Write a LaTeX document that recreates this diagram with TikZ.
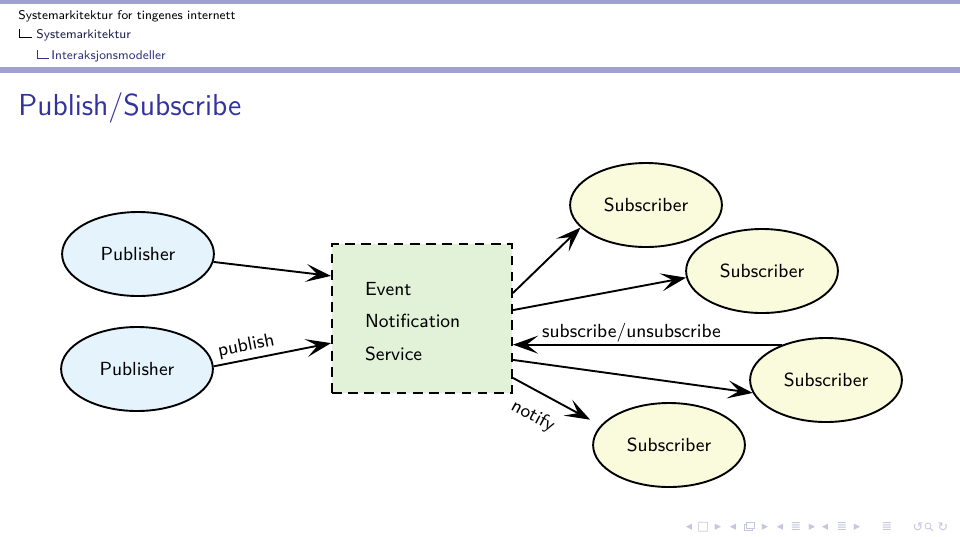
\documentclass[tikz,border=0pt]{standalone}
\usepackage{fontspec}
\newfontfamily\symfont{DejaVu Sans}
\usetikzlibrary{shapes.geometric, arrows.meta, positioning}
\definecolor{barcol}{HTML}{A0A0D6}
\definecolor{titlecol}{HTML}{33339E}
\definecolor{seccol}{HTML}{1C1C4A}
\definecolor{subseccol}{HTML}{33337E}
\definecolor{pubfill}{HTML}{E5F4FC}
\definecolor{boxfill}{HTML}{E1F2D8}
\definecolor{subfill}{HTML}{FAFADC}
\definecolor{navcol}{HTML}{C6C6DE}
\tikzset{
  publisher/.style = {ellipse, draw=black, line width=0.9pt, fill=pubfill,
    minimum width=25.3mm, minimum height=14mm, inner sep=0pt,
    font=\sffamily\fontsize{9}{11}\selectfont},
  subscriber/.style = {ellipse, draw=black, line width=0.9pt, fill=subfill,
    minimum width=25.3mm, minimum height=14mm, inner sep=0pt,
    font=\sffamily\fontsize{9}{11}\selectfont},
  service/.style = {rectangle, draw=black, line width=0.9pt,
    dash pattern=on 1.6mm off 1.1mm, fill=boxfill, minimum width=30mm,
    minimum height=24.8mm, inner sep=0pt,
    font=\sffamily\fontsize{9}{15.6}\selectfont},
  msg/.style = {-{Stealth[length=4.2mm, width=3mm, inset=1.9mm]},
    line width=0.9pt, draw=black},
  lbl/.style = {font=\sffamily\fontsize{9}{11}\selectfont, inner sep=2pt},
  hdr/.style = {font=\sffamily\fontsize{6}{7}\selectfont, inner sep=0pt,
    anchor=base west},
  hdrline/.style = {line width=0.4pt, draw=black},
  nav/.style = {font=\symfont\fontsize{6}{7}\selectfont, text=navcol,
    inner sep=0pt},
  navline/.style = {draw=navcol, line width=0.4pt},
}

\begin{document}
\begin{tikzpicture}[x=0.16667mm, y=-0.16667mm]
\useasboundingbox (0,0) rectangle (960,536);
\fill[white] (0,0) rectangle (960,536);

% headline
\fill[barcol] (0,0) rectangle (960,4);
\fill[barcol] (0,67) rectangle (960,73);
\node[hdr] (hdrA) at (18,19) {Systemarkitektur for tingenes internett};
\node[hdr, text=seccol] (hdrB) at (36,38) {Systemarkitektur};
\node[hdr, text=subseccol] (hdrC) at (51,59) {Interaksjonsmodeller};
\draw[hdrline] (19,29) -- (19,37) -- (32,37);
\draw[hdrline, draw=subseccol] (37,50) -- (37,58) -- (49,58);

% frame title
\node[anchor=base west, inner sep=0pt, text=titlecol,
  font=\sffamily\fontsize{14.4}{17}\selectfont] (title) at (18,115) {Publish/Subscribe};

% nodes
\node[publisher] (pubA) at (138,254) {Publisher};
\node[publisher] (pubB) at (137,369) {Publisher};
\node[service] (box) at (422,318.5)
  {\raisebox{-3.7pt}[0pt][0pt]{\parbox{19mm}{\raggedright Event\\Notification\\Service}}};
\node[subscriber] (subA) at (646,205) {Subscriber};
\node[subscriber] (subB) at (762,271) {Subscriber};
\node[subscriber] (subC) at (826,380) {Subscriber};
\node[subscriber] (subD) at (669,445) {Subscriber};

% connectors
\draw[msg] (pubA.-6) -- ([yshift=7.1mm]box.west);
\draw[msg] (pubB.2) -- node[lbl, above, sloped, pos=0.3]{publish} ([yshift=-4.1mm]box.west);
\draw[msg] ([yshift=4.25mm]box.east) -- (subA.199);
\draw[msg] ([yshift=1.4mm]box.east) -- (subB.185);
\draw[msg] (subC.141) -- node[lbl, above, pos=0.56, inner sep=0.5pt]{subscribe/unsubscribe} (subC.141 -| box.east);
\draw[msg] ([yshift=-6.9mm]box.east) -- (subC.190);
\draw[msg, shorten >=2mm] ([yshift=-9.9mm]box.east) -- node[lbl, below, sloped, pos=0.36, inner sep=7pt]{notify} (subD.164);

% navigation symbols
\foreach \x/\g in {689/◂, 703/□, 718/▸, 733/◂, 765/▸, 780/◂, 796/≣, 812/▸,
  825/◂, 842/≣, 857/▸, 887/≣, 918/↺, 943/↻}
  \node[nav] (nav\x) at (\x,527) {\g};
\draw[navline] (744,524) rectangle (752,530);
\draw[navline, fill=white] (746,522) rectangle (754,528);
\draw[navline] (928,526) circle (3);
\draw[navline] (930,528) -- (933,531);

\end{tikzpicture}
\end{document}
